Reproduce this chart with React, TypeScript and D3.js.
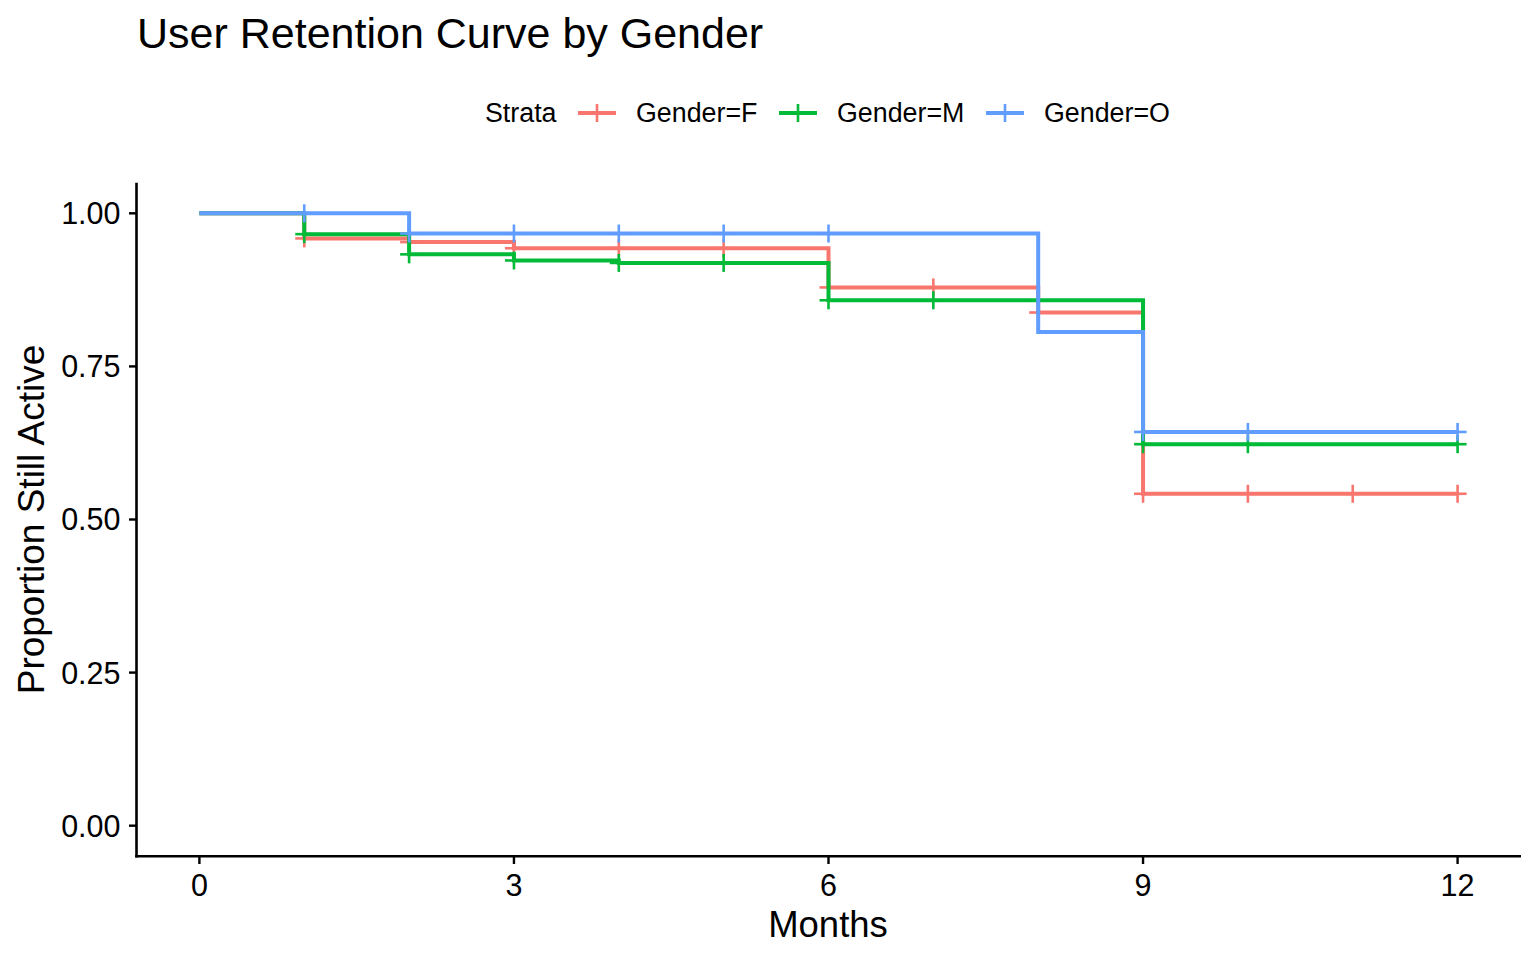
import React from "react";
import * as d3 from "d3";

// ---- data ----
const strata = ["Gender=F", "Gender=M", "Gender=O"];
const colors = ["#F8766D", "#00BA38", "#619CFF"];

// step curves: times where survival changes, and survival after each time
const timesF = [0, 1, 2, 3, 6, 8, 9, 12];
const survF = [1.0, 0.959, 0.953, 0.943, 0.879, 0.838, 0.542, 0.542];
const timesM = [0, 1, 2, 3, 4, 6, 9, 12];
const survM = [1.0, 0.966, 0.933, 0.923, 0.919, 0.858, 0.623, 0.623];
const timesO = [0, 2, 8, 9, 12];
const survO = [1.0, 0.967, 0.806, 0.643, 0.643];

// censor marks
const censorF = [1, 2, 3, 4, 5, 6, 7, 8, 9, 10, 11, 12];
const censorM = [1, 2, 3, 4, 5, 6, 7, 8, 9, 10, 12];
const censorO = [1, 2, 3, 4, 5, 6, 9, 10, 12];

const xTicks = [0, 3, 6, 9, 12];
const yTicks = [0, 0.25, 0.5, 0.75, 1.0];
const yTickLabels = ["0.00", "0.25", "0.50", "0.75", "1.00"];

const series = [
  { times: timesF, surv: survF, censor: censorF },
  { times: timesM, surv: survM, censor: censorM },
  { times: timesO, surv: survO, censor: censorO },
];

const W = 1536;
const H = 960;
const FONT = "'Liberation Sans', Arial, Helvetica, sans-serif";

function survAt(times: number[], surv: number[], t: number) {
  let v = surv[0];
  for (let i = 0; i < times.length; i++) {
    if (times[i] <= t) v = surv[i];
  }
  return v;
}

export default function App() {
  const x = d3.scaleLinear().domain([-0.6, 12.6]).range([136.5, 1520.5]);
  const y = d3.scaleLinear().domain([-0.05, 1.05]).range([856.3, 182.7]);

  const line = d3
    .line<[number, number]>()
    .x((d) => x(d[0]))
    .y((d) => y(d[1]))
    .curve(d3.curveStepAfter);

  const lw = 4;
  const mk = 9;
  const mkW = 2.6;

  const legendItems = [
    { key: 578, text: 636 },
    { key: 779, text: 837 },
    { key: 986, text: 1044 },
  ];

  return (
    <svg
      width={W}
      height={H}
      style={{ position: "absolute", left: 0, top: 0, background: "#fff" }}
      fontFamily={FONT}
    >
      <rect x={0} y={0} width={W} height={H} fill="#fff" />
      {/* title */}
      <text x={137} y={48} fontSize={43} fill="#000">
        User Retention Curve by Gender
      </text>

      {/* legend */}
      <text x={485} y={122} fontSize={26.8} fill="#000">
        Strata
      </text>
      {legendItems.map((it, i) => (
        <g key={i}>
          <line
            x1={it.key}
            x2={it.key + 38}
            y1={113}
            y2={113}
            stroke={colors[i]}
            strokeWidth={lw}
          />
          <line
            x1={it.key + 19}
            x2={it.key + 19}
            y1={113 - mk}
            y2={113 + mk}
            stroke={colors[i]}
            strokeWidth={mkW}
          />
          <text x={it.text} y={122} fontSize={26.8} fill="#000">
            {strata[i]}
          </text>
        </g>
      ))}

      {/* curves */}
      {series.map((s, i) => {
        const pts: [number, number][] = s.times.map((t, j) => [t, s.surv[j]]);
        return (
          <g key={i}>
            <path
              d={line(pts) || ""}
              fill="none"
              stroke={colors[i]}
              strokeWidth={lw}
              strokeLinejoin="miter"
              strokeLinecap="butt"
            />
            {s.censor.map((t, k) => {
              const v = survAt(s.times, s.surv, t);
              const cx = x(t);
              const cy = y(v);
              return (
                <g key={k}>
                  <line x1={cx - mk} x2={cx + mk} y1={cy} y2={cy} stroke={colors[i]} strokeWidth={mkW} />
                  <line x1={cx} x2={cx} y1={cy - mk} y2={cy + mk} stroke={colors[i]} strokeWidth={mkW} />
                </g>
              );
            })}
          </g>
        );
      })}

      {/* axes */}
      <line x1={136.5} x2={136.5} y1={182.7} y2={857.5} stroke="#000" strokeWidth={2.6} />
      <line x1={135.2} x2={1521} y1={856.3} y2={856.3} stroke="#000" strokeWidth={2.6} />
      {yTicks.map((t, i) => (
        <g key={i}>
          <line x1={129} x2={136.5} y1={y(t)} y2={y(t)} stroke="#000" strokeWidth={2.4} />
          <text x={120.5} y={y(t)} dy="0.36em" fontSize={30.5} textAnchor="end" fill="#000">
            {yTickLabels[i]}
          </text>
        </g>
      ))}
      {xTicks.map((t, i) => (
        <g key={i}>
          <line x1={x(t)} x2={x(t)} y1={856.3} y2={864} stroke="#000" strokeWidth={2.4} />
          <text x={x(t)} y={895.5} fontSize={30.5} textAnchor="middle" fill="#000">
            {t}
          </text>
        </g>
      ))}

      {/* axis titles */}
      <text x={828} y={937} fontSize={36.5} textAnchor="middle" fill="#000">
        Months
      </text>
      <text
        transform={`translate(44, 519.5) rotate(-90)`}
        fontSize={37}
        textAnchor="middle"
        fill="#000"
      >
        Proportion Still Active
      </text>
    </svg>
  );
}
